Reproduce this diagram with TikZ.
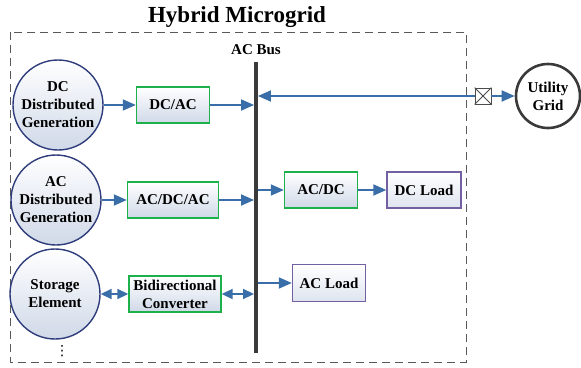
\documentclass[tikz,border=0pt]{standalone}
\usepackage{fontspec}
\setmainfont{Liberation Serif}
\newfontfamily\dejavu{DejaVu Sans}
\usetikzlibrary{arrows.meta}
\definecolor{navy}{HTML}{2F3D7C}
\definecolor{gbox}{HTML}{1DB14B}
\definecolor{pbox}{HTML}{7260A2}
\definecolor{arr}{HTML}{3A6EA8}
\definecolor{fillbot}{HTML}{D0D9E8}
\definecolor{busc}{HTML}{3A3A3A}
\begin{document}
\begin{tikzpicture}[x=1pt,y=-1pt,
  font=\bfseries\fontsize{15}{18}\selectfont,
  src/.style={circle, draw=navy, line width=1.4pt, top color=white, bottom color=fillbot, minimum size=90pt, inner sep=0pt, align=center},
  conv/.style={rectangle, draw=gbox, line width=1.4pt, top color=white, bottom color=fillbot, minimum height=36pt, inner sep=2pt, align=center},
  load/.style={rectangle, draw=pbox, line width=1.4pt, top color=white, bottom color=fillbot!70, minimum height=36pt, inner sep=2pt, align=center},
  tip/.tip={Triangle[length=13pt,width=11pt]},
  stip/.tip={Triangle[length=11pt,width=10pt]},
  flow/.style={draw=arr, line width=1.8pt, -tip},
  biflow/.style={draw=arr, line width=1.8pt, stip-stip},
  frame/.style={draw=black!65, line width=1pt, dash pattern=on 8pt off 5pt}
]
\useasboundingbox (0,0) rectangle (581,367);
\draw[frame] (10,32) rectangle (466,362);
\node[font=\bfseries\fontsize{23}{26}\selectfont] (title) at (237,17) {Hybrid Microgrid};
\node (buslbl) at (256,50) {AC Bus};
\node[fill=busc, minimum width=3.5pt, minimum height=291pt, inner sep=0pt] (bus) at (256,207.5) {};

\node[src] (dcdg) at (58,105) {DC\\Distributed\\Generation};
\node[src] (acdg) at (56,200) {AC\\Distributed\\Generation};
\node[src] (stor) at (55,294) {Storage\\Element};
\node[font=\dejavu\fontsize{14}{14}\selectfont, inner sep=0pt] (dots) at (62,351) {⋮};

\node[conv, minimum width=73pt] (dcac) at (173,105) {DC/AC};
\node[conv, minimum width=91pt] (acdcac) at (173,200) {AC/DC/AC};
\node[conv, minimum width=92pt, inner sep=1pt] (bidir) at (175,294) {Bidirectional\\Converter};
\node[conv, minimum width=73pt] (acdc) at (321,190) {AC/DC};
\node[load, minimum width=74pt] (dcload) at (424,190) {DC Load};
\node[load, minimum width=73pt, minimum height=37pt] (acload) at (329,283) {AC Load};

\node[circle, draw=busc, line width=2.6pt, fill=white, minimum size=64pt, inner sep=0pt, align=center] (util) at (548,96) {Utility\\Grid};
\node[rectangle, draw=black!70, line width=0.8pt, fill=white, minimum size=16pt, inner sep=0pt] (brk) at (483,96) {};
\draw[black!70, line width=0.8pt] (brk.north west) -- (brk.south east) (brk.north east) -- (brk.south west);

\draw[flow] (dcdg) -- (dcac);
\draw[flow] (dcac.east) -- (dcac.east -| bus.west);
\draw[flow] (acdg) -- (acdcac);
\draw[flow] (acdcac.east) -- (acdcac.east -| bus.west);
\draw[biflow] (stor) -- (bidir);
\draw[biflow] (bidir.east) -- (bidir.east -| bus.west);
\draw[flow] (brk.west) -- (brk.west -| bus.east);
\draw[flow] (brk.east) -- (util.west);
\draw[flow] (acdc.west -| bus.east) -- (acdc.west);
\draw[flow] (acdc) -- (dcload);
\draw[flow] (acload.west -| bus.east) -- (acload.west);
\end{tikzpicture}
\end{document}
